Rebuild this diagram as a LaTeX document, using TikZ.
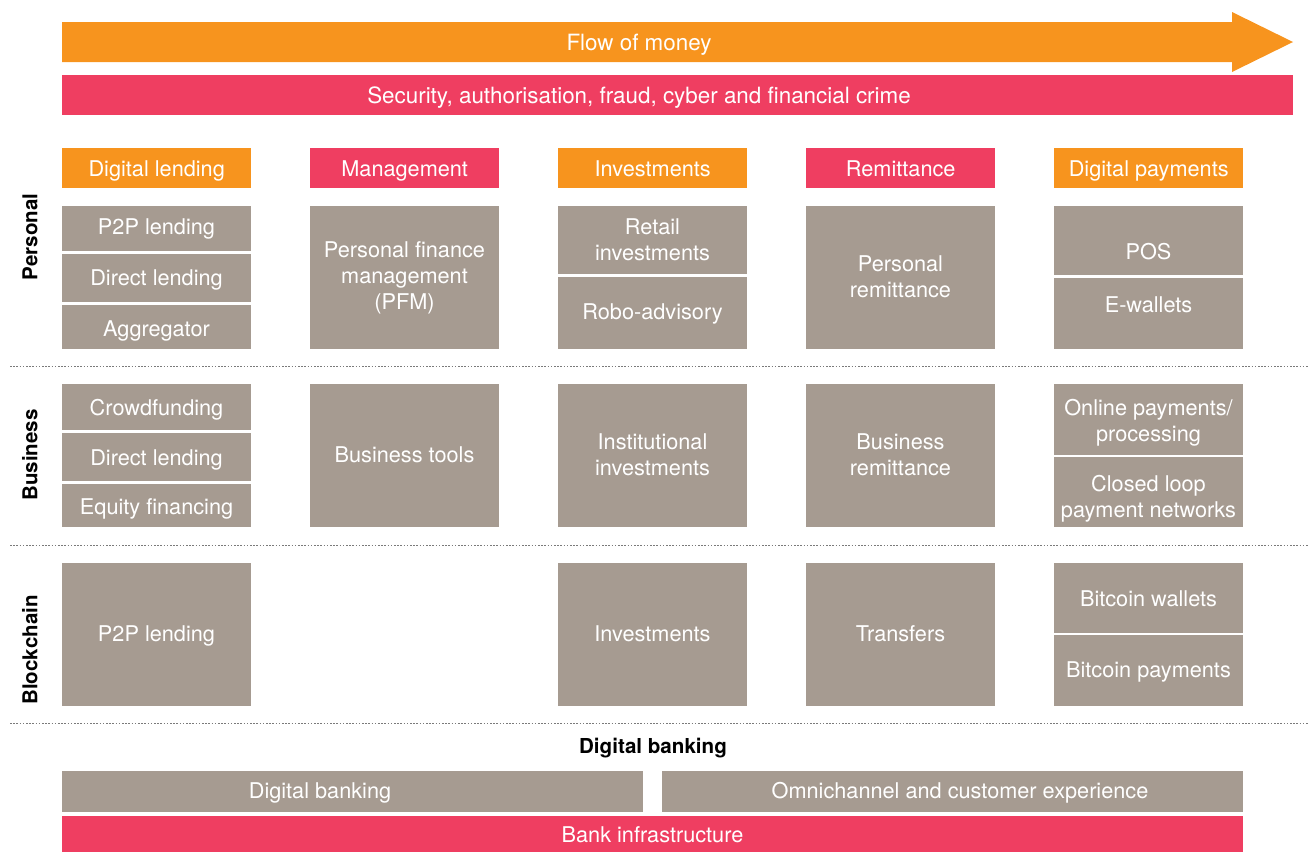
\documentclass[tikz,border=0pt]{standalone}
\usepackage{fontspec}
\setmainfont{TeX Gyre Heros}
\definecolor{orng}{HTML}{F7941E}
\definecolor{pnk}{HTML}{EF3E61}
\definecolor{gry}{HTML}{A69B91}
\definecolor{dotc}{HTML}{7A7A7A}
\begin{document}
\begin{tikzpicture}[x=1pt,y=-1pt,
  txtm/.style={text=white, inner sep=0pt, align=center, font=\fontsize{21.7}{26}\selectfont},
  txt/.style={text=white, inner sep=0pt, text height=15.6pt, text depth=0pt, font=\fontsize{21.7}{26}\selectfont},
  txtbig/.style={text=white, inner sep=0pt, text height=16.1pt, text depth=0pt, font=\fontsize{22.4}{26}\selectfont},
  boxg/.style={fill=gry, draw=none, inner sep=0pt, minimum width=189pt, anchor=north west},
  hdr/.style={draw=none, inner sep=0pt, minimum width=189pt, minimum height=40pt, anchor=north west},
  divline/.style={white, line width=2.5pt},
  sepline/.style={dotc, line width=0.9pt, dash pattern=on 1.6pt off 1.6pt},
  rowlab/.style={rotate=90, inner sep=0pt, text height=14.8pt, text depth=0pt, font=\fontsize{20.5}{24}\selectfont\bfseries},
]
\useasboundingbox (0,0) rectangle (1309,852);

% top arrow and bar
\fill[orng] (62,22) -- (1232,22) -- (1232,12) -- (1293,42) -- (1232,72) -- (1232,62) -- (62,62) -- cycle;
\node[txtbig] (flow) at (639,42) {Flow of money};
\node[fill=pnk, inner sep=0pt, minimum width=1231pt, minimum height=40pt, anchor=north west] (sec) at (62,75) {};
\node[txtbig] (sect) at (639,95) {Security, authorisation, fraud, cyber and financial crime};

% headers
\node[hdr, fill=orng] (h1) at (62,148) {};
\node[hdr, fill=pnk] (h2) at (310,148) {};
\node[hdr, fill=orng] (h3) at (558,148) {};
\node[hdr, fill=pnk] (h4) at (806,148) {};
\node[hdr, fill=orng] (h5) at (1054,148) {};
\node[txt] (h1t) at (h1.center) {Digital lending};
\node[txt] (h2t) at (h2.center) {Management};
\node[txt] (h3t) at (h3.center) {Investments};
\node[txt] (h4t) at (h4.center) {Remittance};
\node[txt] (h5t) at (h5.center) {Digital payments};

% row labels
\node[rowlab] (lp) at (30,237) {Personal};
\node[rowlab] (lb) at (30,455) {Business};
\node[rowlab] (lc) at (30,650) {Blockchain};

% ---- Personal row ----
\node[boxg, minimum height=143pt] (p1) at (62,206) {};
\node[boxg, minimum height=143pt] (p2) at (310,206) {};
\node[boxg, minimum height=143pt] (p3) at (558,206) {};
\node[boxg, minimum height=143pt] (p4) at (806,206) {};
\node[boxg, minimum height=143pt] (p5) at (1054,206) {};
\draw[divline] (62,252.5) -- (251,252.5);
\draw[divline] (62,303.5) -- (251,303.5);
\draw[divline] (558,275.5) -- (747,275.5);
\draw[divline] (1054,276.5) -- (1243,276.5);
\node[txt] (t11) at (156.5,227) {P2P lending};
\node[txt] (t12) at (156.5,278) {Direct lending};
\node[txt] (t13) at (156.5,329) {Aggregator};
\node[txtm] (t21) at (404.5,278) {Personal finance\\management\\(PFM)};
\node[txtm] (t31) at (652.5,240) {Retail\\investments};
\node[txt] (t32) at (652.5,312) {Robo-advisory};
\node[txtm] (t41) at (900.5,277) {Personal\\remittance};
\node[txt] (t51) at (1148.5,252) {POS};
\node[txt] (t52) at (1148.5,305) {E-wallets};

\coordinate (s1a) at (10,366.5); \coordinate (s1b) at (1309,366.5);
\draw[sepline] (s1a) -- (s1b);

% ---- Business row ----
\node[boxg, minimum height=143pt] (b1) at (62,384) {};
\node[boxg, minimum height=143pt] (b2) at (310,384) {};
\node[boxg, minimum height=143pt] (b3) at (558,384) {};
\node[boxg, minimum height=143pt] (b4) at (806,384) {};
\node[boxg, minimum height=143pt] (b5) at (1054,384) {};
\draw[divline] (62,431.5) -- (251,431.5);
\draw[divline] (62,482.5) -- (251,482.5);
\draw[divline] (1054,456) -- (1243,456);
\node[txt] (u11) at (156.5,408) {Crowdfunding};
\node[txt] (u12) at (156.5,458) {Direct lending};
\node[txt] (u13) at (156.5,507) {Equity financing};
\node[txt] (u21) at (404.5,455) {Business tools};
\node[txtm] (u31) at (652.5,455) {Institutional\\investments};
\node[txtm] (u41) at (900.5,455) {Business\\remittance};
\node[txtm] (u51) at (1148.5,423) {Online payments/\\processing};
\node[txtm] (u52) at (1148.5,499) {Closed loop\\payment networks};

\coordinate (s2a) at (10,545.5); \coordinate (s2b) at (1309,545.5);
\draw[sepline] (s2a) -- (s2b);

% ---- Blockchain row ----
\node[boxg, minimum height=143pt] (c1) at (62,563) {};
\node[boxg, minimum height=143pt] (c3) at (558,563) {};
\node[boxg, minimum height=143pt] (c4) at (806,563) {};
\node[boxg, minimum height=143pt] (c5) at (1054,563) {};
\draw[divline] (1054,634) -- (1243,634);
\node[txt] (v11) at (156.5,634) {P2P lending};
\node[txt] (v31) at (652.5,634) {Investments};
\node[txt] (v41) at (900.5,634) {Transfers};
\node[txt] (v51) at (1148.5,599) {Bitcoin wallets};
\node[txt] (v52) at (1148.5,670) {Bitcoin payments};

\coordinate (s3a) at (10,723); \coordinate (s3b) at (1309,723);
\draw[sepline] (s3a) -- (s3b);

% ---- Digital banking ----
\node[inner sep=0pt, text height=14.8pt, text depth=0pt, font=\fontsize{20.6}{24}\selectfont\bfseries] (dbl) at (653,746) {Digital banking};
\node[fill=gry, inner sep=0pt, minimum width=581pt, minimum height=41pt, anchor=north west] (db1) at (62,771) {};
\node[txt] (db1t) at (320,791) {Digital banking};
\node[fill=gry, inner sep=0pt, minimum width=581pt, minimum height=41pt, anchor=north west] (db2) at (662,771) {};
\node[txt] (db2t) at (960,791) {Omnichannel and customer experience};
\node[fill=pnk, inner sep=0pt, minimum width=1181pt, minimum height=36pt, anchor=north west] (bi) at (62,816) {};
\node[txt] (bit) at (652.5,835) {Bank infrastructure};
\end{tikzpicture}
\end{document}
